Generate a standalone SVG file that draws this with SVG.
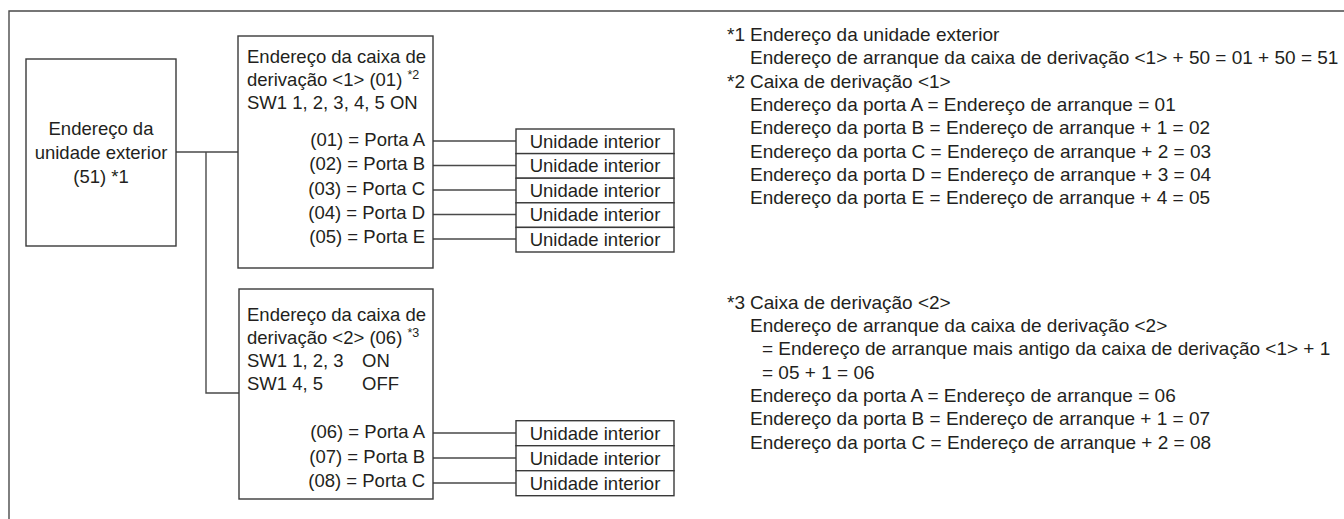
<svg xmlns="http://www.w3.org/2000/svg" width="1344" height="519" viewBox="0 0 1344 519">
<style>
.box{fill:#fff;stroke:#3a3a3a;stroke-width:1.4}
.ln{fill:none;stroke:#4a4a4a;stroke-width:1.4}
text{font-family:"Liberation Sans",Arial,sans-serif;font-size:18.5px;fill:#231f20}
.r{text-anchor:end}
.m{text-anchor:middle}
.n{font-size:19px}
.sup{font-size:12.5px}
</style>
<rect width="1344" height="519" fill="#fff"/>
<path class="ln" d="M9,519 V11 H1344"/>
<g id="connectors">
  <path class="ln" d="M176,152 H238 M206,152 V393 H239"/>
  <path class="ln" d="M433,141 H516 M433,165.5 H516 M433,190 H516 M433,214.5 H516 M433,239 H516"/>
  <path class="ln" d="M433,433 H516 M433,458 H516 M433,483 H516"/>
</g>
<g id="outdoor">
  <rect class="box" x="26" y="59" width="150" height="187"/>
  <text class="m" x="101" y="135">Endereço da</text>
  <text class="m" x="101" y="159">unidade exterior</text>
  <text class="m" x="101" y="183">(51) *1</text>
</g>
<g id="branch1">
  <rect class="box" x="238" y="36" width="195" height="232"/>
  <text x="247" y="63">Endereço da caixa de</text>
  <text x="247" y="86">derivação &lt;1&gt; (01) <tspan class="sup" dy="-7">*2</tspan></text>
  <text x="247" y="109">SW1 1, 2, 3, 4, 5 ON</text>
  <text class="r" x="425" y="146">(01) = Porta A</text>
  <text class="r" x="425" y="170">(02) = Porta B</text>
  <text class="r" x="425" y="195">(03) = Porta C</text>
  <text class="r" x="425" y="219">(04) = Porta D</text>
  <text class="r" x="425" y="243">(05) = Porta E</text>
</g>
<g id="indoor1a"><rect class="box" x="516" y="129" width="158" height="24.6"/><text class="m" x="595" y="147.5">Unidade interior</text></g>
<g id="indoor1b"><rect class="box" x="516" y="153.6" width="158" height="24.6"/><text class="m" x="595" y="172">Unidade interior</text></g>
<g id="indoor1c"><rect class="box" x="516" y="178.2" width="158" height="24.6"/><text class="m" x="595" y="196.6">Unidade interior</text></g>
<g id="indoor1d"><rect class="box" x="516" y="202.8" width="158" height="24.6"/><text class="m" x="595" y="221.2">Unidade interior</text></g>
<g id="indoor1e"><rect class="box" x="516" y="227.4" width="158" height="24.6"/><text class="m" x="595" y="245.8">Unidade interior</text></g>
<g id="branch2">
  <rect class="box" x="239" y="289" width="194" height="210"/>
  <text x="247" y="321">Endereço da caixa de</text>
  <text x="247" y="344">derivação &lt;2&gt; (06) <tspan class="sup" dy="-7">*3</tspan></text>
  <text x="247" y="367">SW1 1, 2, 3</text><text x="362" y="367">ON</text>
  <text x="247" y="390">SW1 4, 5</text><text x="362" y="390">OFF</text>
  <text class="r" x="425" y="438">(06) = Porta A</text>
  <text class="r" x="425" y="463">(07) = Porta B</text>
  <text class="r" x="425" y="487">(08) = Porta C</text>
</g>
<g id="indoor2a"><rect class="box" x="516" y="420.7" width="158" height="25"/><text class="m" x="595" y="439.5">Unidade interior</text></g>
<g id="indoor2b"><rect class="box" x="516" y="445.7" width="158" height="25"/><text class="m" x="595" y="464.5">Unidade interior</text></g>
<g id="indoor2c"><rect class="box" x="516" y="470.7" width="158" height="25"/><text class="m" x="595" y="489.5">Unidade interior</text></g>
<g id="notes">
  <text class="n" x="727" y="41">*1</text><text class="n" x="750" y="41">Endereço da unidade exterior</text>
  <text class="n" x="750" y="64.3">Endereço de arranque da caixa de derivação &lt;1&gt; + 50 = 01 + 50 = 51</text>
  <text class="n" x="727" y="87.6">*2</text><text class="n" x="750" y="87.6">Caixa de derivação &lt;1&gt;</text>
  <text class="n" x="750" y="111">Endereço da porta A = Endereço de arranque = 01</text>
  <text class="n" x="750" y="134.3">Endereço da porta B = Endereço de arranque + 1 = 02</text>
  <text class="n" x="750" y="157.6">Endereço da porta C = Endereço de arranque + 2 = 03</text>
  <text class="n" x="750" y="181">Endereço da porta D = Endereço de arranque + 3 = 04</text>
  <text class="n" x="750" y="204.3">Endereço da porta E = Endereço de arranque + 4 = 05</text>
  <text class="n" x="727" y="308.5">*3</text><text class="n" x="750" y="308.5">Caixa de derivação &lt;2&gt;</text>
  <text class="n" x="750" y="331.8">Endereço de arranque da caixa de derivação &lt;2&gt;</text>
  <text class="n" x="762" y="355">= Endereço de arranque mais antigo da caixa de derivação &lt;1&gt; + 1</text>
  <text class="n" x="762" y="378.5">= 05 + 1 = 06</text>
  <text class="n" x="750" y="401.8">Endereço da porta A = Endereço de arranque = 06</text>
  <text class="n" x="750" y="425">Endereço da porta B = Endereço de arranque + 1 = 07</text>
  <text class="n" x="750" y="448.5">Endereço da porta C = Endereço de arranque + 2 = 08</text>
</g>
</svg>
